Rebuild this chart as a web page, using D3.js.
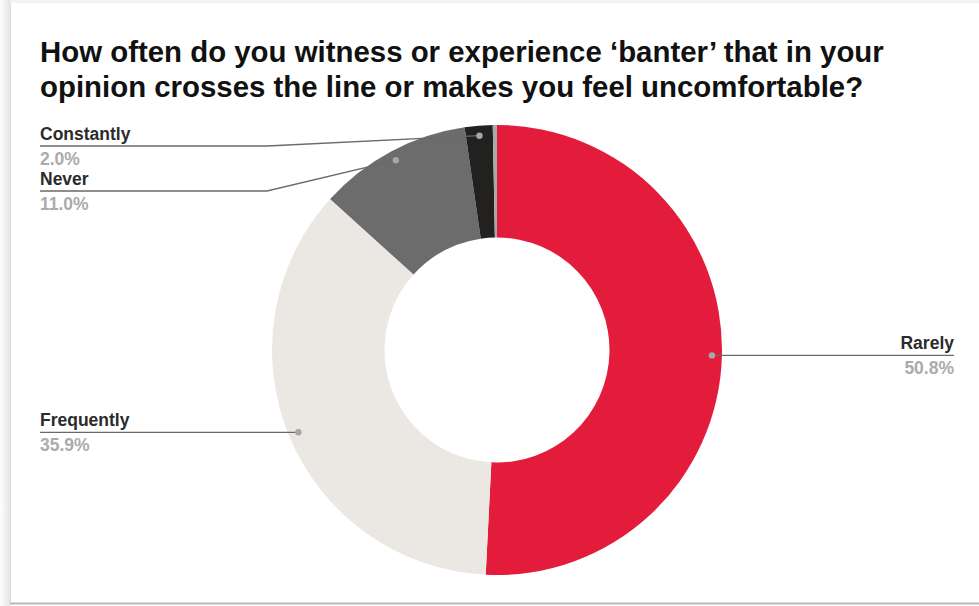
<!DOCTYPE html>
<html>
<head>
<meta charset="utf-8">
<script src="https://cdn.jsdelivr.net/npm/d3@7/dist/d3.min.js"></script>
<style>
  html, body { margin: 0; padding: 0; background: #ffffff; }
  svg { display: block; }
  text { font-family: "Liberation Sans", Arial, sans-serif; }
</style>
</head>
<body>
<svg id="chart" width="979" height="606"></svg>
<script>
// Survey answers, in drawing order (clockwise from 12 o'clock)
const categories = ["Rarely", "Frequently", "Never", "Constantly", "Other"];
const values = [50.8, 35.9, 11.0, 2.0, 0.3];
const valueLabels = ["50.8%", "35.9%", "11.0%", "2.0%", ""];
const colors = ["#e31c3c", "#ebe8e3", "#6d6c6c", "#222120", "#a9a9a9"];
const titleLines = [
  "How often do you witness or experience \u2018banter\u2019 that in your",
  "opinion crosses the line or makes you feel uncomfortable?"
];

const W = 979, H = 606;
const svg = d3.select("#chart");

// card frame with a soft left edge and a bottom rule
const defs = svg.append("defs");
const grad = defs.append("linearGradient").attr("id", "edge").attr("x1", 0).attr("x2", 1);
grad.append("stop").attr("offset", "0%").attr("stop-color", "#ffffff");
grad.append("stop").attr("offset", "100%").attr("stop-color", "#e4e4e4");
svg.append("rect").attr("x", 0).attr("y", 0).attr("width", W).attr("height", H).attr("fill", "#fdfdfd");
svg.append("rect").attr("x", 0).attr("y", 0).attr("width", W).attr("height", 3).attr("fill", "#f3f3f3");
svg.append("rect").attr("x", 0).attr("y", 0).attr("width", 10).attr("height", H).attr("fill", "url(#edge)");
svg.append("rect").attr("x", 10).attr("y", 3).attr("width", W - 10).attr("height", 600).attr("fill", "#ffffff");
svg.append("line").attr("x1", 10.5).attr("x2", 10.5).attr("y1", 3).attr("y2", 603)
  .attr("stroke", "#dcdcdc").attr("stroke-width", 1);
svg.append("line").attr("x1", 10).attr("x2", W).attr("y1", 603.5).attr("y2", 603.5)
  .attr("stroke", "#b8b8b8").attr("stroke-width", 2);

// title
const title = svg.append("text").attr("x", 40).attr("font-size", 29.4)
  .attr("font-weight", "bold").attr("fill", "#111");
titleLines.forEach((t, i) => {
  title.append("tspan").attr("x", 40).attr("y", 62 + i * 35).text(t);
});

// donut
const cx = 497, cy = 350, R = 225, r0 = 112.5;
const data = categories.map((c, i) => ({ name: c, value: values[i], label: valueLabels[i], color: colors[i] }));
const pie = d3.pie().value(d => d.value).sort(null);
const arcs = pie(data);
const arc = d3.arc().innerRadius(r0).outerRadius(R);
const g = svg.append("g").attr("transform", `translate(${cx},${cy})`);
g.selectAll("path").data(arcs).join("path")
  .attr("d", arc).attr("fill", d => d.data.color);

// leader lines: label anchor -> elbow -> point inside the slice
const dotArc = d3.arc().innerRadius(215).outerRadius(215);
const labelSpec = {
  Rarely:     { side: "right", x: 954, y: 354, elbow: null },
  Frequently: { side: "left",  x: 40,  y: 430, elbow: null },
  Never:      { side: "left",  x: 40,  y: 191, elbow: 267 },
  Constantly: { side: "left",  x: 40,  y: 146, elbow: 267 }
};

arcs.forEach(a => {
  const spec = labelSpec[a.data.name];
  if (!spec) return;
  const [px, py] = dotArc.centroid(a);
  const dx = cx + px, dy = cy + py;
  let pts;
  if (spec.elbow === null) {
    pts = [[spec.x, dy], [dx, dy]];
  } else {
    pts = [[spec.x, spec.y], [spec.elbow, spec.y], [dx, dy]];
  }
  svg.append("path").attr("d", d3.line()(pts))
    .attr("fill", "none").attr("stroke", "#6a6a6a").attr("stroke-width", 1.3);
  svg.append("circle").attr("cx", dx).attr("cy", dy).attr("r", 3.2).attr("fill", "#a6a6a6");

  const lineY = pts[0][1];
  const anchor = spec.side === "right" ? "end" : "start";
  svg.append("text").attr("x", spec.x).attr("y", lineY - 6)
    .attr("text-anchor", anchor).attr("font-size", 17.5).attr("font-weight", "bold")
    .attr("fill", "#2b2b2b").text(a.data.name);
  svg.append("text").attr("x", spec.x).attr("y", lineY + 19)
    .attr("text-anchor", anchor).attr("font-size", 17.5).attr("font-weight", "bold")
    .attr("fill", "#ababab").text(a.data.label);
});
</script>
</body>
</html>
